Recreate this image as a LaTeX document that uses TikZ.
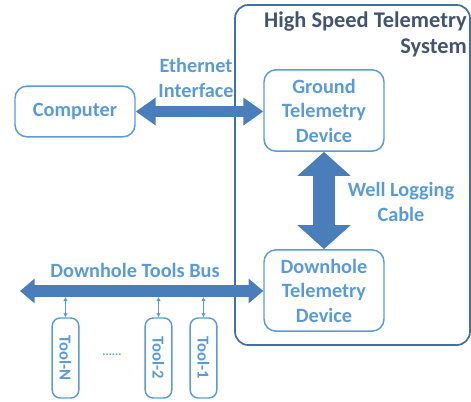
\documentclass[tikz,border=0pt]{standalone}
\usepackage{fontspec}
\setmainfont{Carlito}
\usetikzlibrary{positioning,arrows.meta}

\definecolor{lightblue}{HTML}{5B9BD5}
\definecolor{fatblue}{HTML}{4A7EBB}
\definecolor{sysblue}{HTML}{41719C}
\definecolor{titleblue}{HTML}{44546A}

\tikzset{
  block/.style={draw=lightblue, line width=1.1pt, rounded corners=9pt, fill=white,
                text=lightblue, font=\bfseries\fontsize{15.2}{18.4}\selectfont,
                align=center, minimum width=90pt, minimum height=61pt, inner sep=0pt},
  toolbox/.style={draw=lightblue, line width=1.1pt, rounded corners=6pt, fill=white,
                text=lightblue, font=\bfseries\fontsize{12.5}{13}\selectfont,
                minimum width=20pt, minimum height=60pt, inner sep=0pt},
  lbl/.style={text=lightblue, font=\bfseries\fontsize{15.2}{18.4}\selectfont,
              align=center, inner sep=0pt},
  fat/.style={fatblue, line width=8.5pt,
              {Triangle[length=15pt,width=20pt]}-{Triangle[length=15pt,width=20pt]}},
  cable/.style={fatblue, line width=16.5pt,
              {Triangle[length=18pt,width=39pt]}-{Triangle[length=18pt,width=39pt]}},
  bus/.style={fatblue, line width=9pt,
              {Triangle[length=11pt,width=18pt]}-{Triangle[length=11pt,width=18pt]}},
  toollink/.style={lightblue, line width=0.9pt,
              {Latex[length=3pt,width=3.5pt]}-{Latex[length=3pt,width=3.5pt]}}
}

\begin{document}
\begin{tikzpicture}[x=0.75pt,y=-0.75pt]

  \useasboundingbox (0,0) rectangle (471,401);

  % telemetry system frame
  \draw[sysblue, line width=1.3pt, rounded corners=10pt] (235,5) rectangle (470,345);
  \node[anchor=north east, align=right, inner sep=0pt, text=titleblue,
        font=\bfseries\fontsize{16.8}{19}\selectfont] (title) at (467,12)
        {High Speed Telemetry\\System};

  \node[block, minimum height=38pt] (comp) at (75,111.5) {Computer};
  \node[block] (gtd) at (324,110.5) {Ground\\Telemetry\\Device};
  \node[block] (dtd) at (324,290.5) {Downhole\\Telemetry\\Device};

  \node[toolbox] (toolN) at (65.5,358) {\rotatebox{-90}{Tool-N}};
  \node[toolbox] (tool2) at (158.5,358) {\rotatebox{-90}{Tool-2}};
  \node[toolbox] (tool1) at (203.5,358) {\rotatebox{-90}{Tool-1}};
  \node[text=lightblue, font=\bfseries\fontsize{9}{10}\selectfont] (dots) at (112,355) {......};

  \node[lbl] (eth) at (196,78) {Ethernet\\Interface};
  \node[lbl] (wlc) at (401,202) {Well Logging\\Cable};
  \node[lbl] (dtb) at (135,270) {Downhole Tools Bus};

  \coordinate (busL) at (20,291);
  \coordinate (busB) at (0,297);

  \draw[fat] (comp.east) -- (comp.east -| gtd.west);
  \draw[cable] (gtd.south) -- (dtd.north);
  \draw[bus] (busL) -- (busL -| dtd.west);

  \foreach \t in {toolN,tool2,tool1}
    \draw[toollink] (\t.north) -- (\t.north |- busB);

\end{tikzpicture}
\end{document}
